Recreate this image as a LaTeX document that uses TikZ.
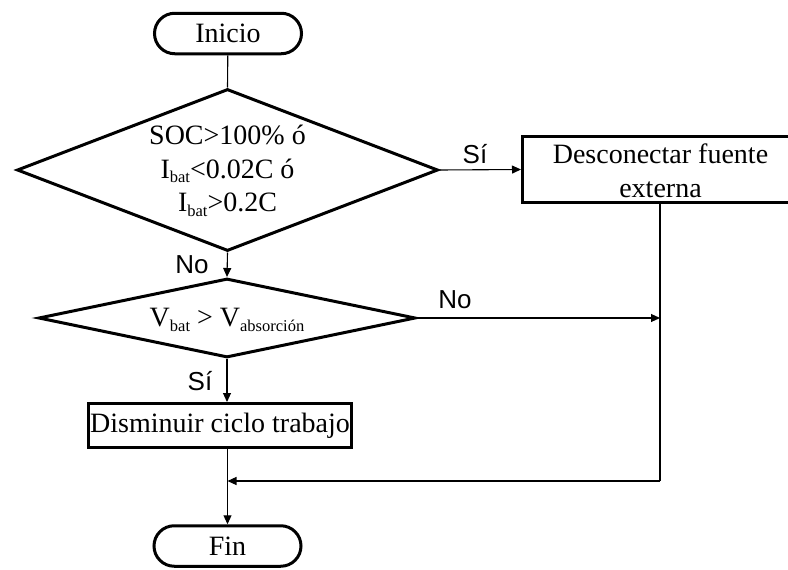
\documentclass[tikz,border=0pt]{standalone}
\usepackage{fontspec}
\setmainfont{Liberation Serif}
\newfontfamily\labelfont{Liberation Sans}
\usetikzlibrary{shapes.geometric,shapes.misc,arrows.meta}
% lowered, smaller text for subscripts such as "bat"
\newcommand\sbsc[1]{\raisebox{-0.35ex}{\fontsize{16.5}{16.5}\selectfont #1}}

\begin{document}
\begin{tikzpicture}[x=1pt,y=-1pt,
  every node/.style={font=\fontsize{28}{33.5}\selectfont, inner sep=0pt, align=center},
  terminal/.style={rounded rectangle, draw, line width=3pt,
                   minimum width=147pt, minimum height=40.5pt},
  process/.style={rectangle, draw, line width=3pt},
  decision/.style={diamond, draw, line width=3pt},
  flow/.style={line width=1.1pt},
  arrow/.style={flow, -{Triangle[length=9pt,width=8pt]}},
  branch/.style={font=\labelfont\fontsize{26}{26}\selectfont}]

\useasboundingbox (0,0) rectangle (788,570);
\clip (0,0) rectangle (788,570);

% shapes
\node[terminal] (inicio) at (228,33.5) {Inicio};

\node[decision, minimum width=421pt, minimum height=162pt] (d1) at (227.5,170) {};
\node (d1t) at (227.5,171) {SOC>100\% ó\\ I\sbsc{bat}<0.02C ó\\ I\sbsc{bat}>0.2C};

\node[process, minimum width=276pt, minimum height=66pt] (ext) at (660.5,169.5) {};
\node (extt) at (660.5,171) {Desconectar fuente\\ externa};

\node[decision, minimum width=377pt, minimum height=79pt] (d2) at (227,318) {};
\node (d2t) at (227,320) {V\sbsc{bat} > V\sbsc{absorción}};

\node[process, minimum width=263pt, minimum height=44pt] (dis) at (220,425.5) {Disminuir ciclo trabajo};

\node[terminal] (fin) at (227.5,546) {Fin};

\coordinate (j1) at (660,318);
\coordinate (c1) at (660,481);
\coordinate (j2) at (227.5,481);

% connectors
\draw[flow] (inicio) -- (d1.north);
\draw[arrow] (d1.east) -- (ext.west);
\draw[arrow] (d1.south) -- (d2.north);
\draw[arrow] (d2.east) -- (j1);
\draw[arrow] (d2.south) -- (d2.south |- dis.north);
\draw[flow] (ext.south -| c1) -- (c1);
\draw[arrow] (c1) -- (j2);
\draw[arrow] (fin.north |- dis.south) -- (fin.north);

% branch labels
\node[branch] (lsi1) at (475,154) {Sí};
\node[branch] (lno1) at (192,265) {No};
\node[branch] (lno2) at (455,300) {No};
\node[branch] (lsi2) at (200,381) {Sí};
\end{tikzpicture}
\end{document}
